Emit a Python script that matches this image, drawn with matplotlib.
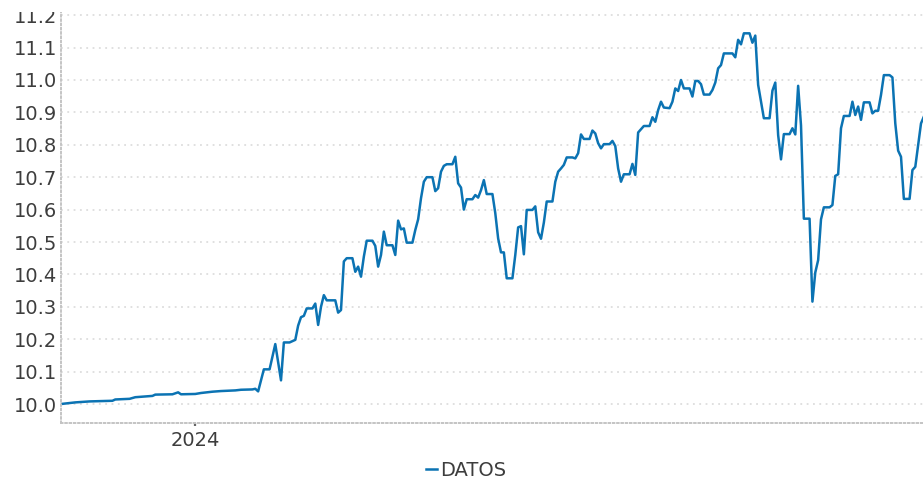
import matplotlib
matplotlib.use('Agg')
import matplotlib.pyplot as plt
import matplotlib.dates as mdates
import pandas as pd
from matplotlib.patches import Rectangle

# ---- data ----
serie = 'DATOS'
inicio = '2023-11-15'
dias = [0, 2, 5, 10, 18, 19, 24, 26, 32, 33,
        39, 41, 42, 47, 49, 53, 56, 61, 63, 67,
        68, 69, 71, 73, 75, 77, 78, 80, 82, 83,
        84, 85, 86, 88, 89, 90, 91, 92, 93, 96,
        97, 98, 99, 100, 102, 103, 104, 105, 106, 107,
        109, 110, 111, 112, 113, 114, 116, 117, 118, 119,
        120, 121, 123, 124, 125, 126, 127, 128, 130, 131,
        132, 133, 134, 135, 137, 138, 139, 140, 141, 142,
        144, 145, 146, 147, 148, 149, 151, 152, 153, 154,
        155, 156, 158, 159, 160, 161, 162, 163, 165, 166,
        167, 168, 169, 170, 172, 173, 174, 175, 176, 177,
        179, 180, 181, 182, 183, 185, 186, 187, 188, 189,
        190, 192, 193, 194, 195, 196, 197, 199, 200, 201,
        202, 203, 204, 206, 207, 208, 209, 210, 211, 213,
        214, 215, 216, 217, 218, 220, 221, 222, 223, 224,
        225, 227, 228, 229, 230, 231, 232, 235, 236, 237,
        238, 239, 241, 242, 243, 244, 245, 246, 248, 249,
        250, 251, 252, 253, 255, 256, 257, 258, 259, 260,
        262, 263, 264, 265, 266, 267, 269, 270, 271, 272,
        273, 274, 276, 277, 278, 279, 280, 281, 283, 284,
        285, 286, 287, 288, 290, 291, 292, 293, 294, 295,
        297, 298, 299, 300, 301, 302]
valores = [10.000, 10.002, 10.005, 10.008, 10.010, 10.014, 10.016, 10.021, 10.025, 10.029,
           10.030, 10.036, 10.030, 10.031, 10.034, 10.038, 10.040, 10.042, 10.044, 10.045,
           10.047, 10.039, 10.107, 10.107, 10.185, 10.073, 10.190, 10.190, 10.198, 10.242,
           10.268, 10.272, 10.295, 10.295, 10.310, 10.244, 10.300, 10.336, 10.320, 10.320,
           10.282, 10.290, 10.440, 10.450, 10.450, 10.408, 10.424, 10.393, 10.455, 10.504,
           10.504, 10.488, 10.424, 10.460, 10.532, 10.490, 10.490, 10.460, 10.566, 10.539,
           10.542, 10.498, 10.498, 10.537, 10.570, 10.635, 10.686, 10.700, 10.700, 10.657,
           10.666, 10.717, 10.735, 10.740, 10.740, 10.763, 10.681, 10.668, 10.600, 10.632,
           10.632, 10.645, 10.637, 10.660, 10.691, 10.648, 10.648, 10.589, 10.511, 10.468,
           10.468, 10.388, 10.388, 10.460, 10.545, 10.549, 10.462, 10.599, 10.599, 10.610,
           10.530, 10.510, 10.560, 10.625, 10.625, 10.686, 10.717, 10.727, 10.738, 10.761,
           10.761, 10.758, 10.774, 10.832, 10.818, 10.818, 10.844, 10.835, 10.805, 10.789,
           10.802, 10.802, 10.812, 10.796, 10.727, 10.686, 10.709, 10.709, 10.741, 10.707,
           10.838, 10.848, 10.858, 10.858, 10.885, 10.871, 10.907, 10.933, 10.915, 10.913,
           10.933, 10.974, 10.966, 11.000, 10.974, 10.974, 10.949, 10.997, 10.997, 10.987,
           10.955, 10.955, 10.969, 10.992, 11.036, 11.046, 11.082, 11.082, 11.070, 11.124,
           11.110, 11.144, 11.144, 11.115, 11.137, 10.985, 10.933, 10.882, 10.882, 10.967,
           10.992, 10.830, 10.755, 10.833, 10.833, 10.851, 10.832, 10.982, 10.860, 10.572,
           10.572, 10.316, 10.406, 10.444, 10.570, 10.607, 10.607, 10.614, 10.704, 10.709,
           10.851, 10.889, 10.889, 10.933, 10.892, 10.918, 10.877, 10.931, 10.931, 10.897,
           10.905, 10.905, 10.954, 11.015, 11.015, 11.008, 10.866, 10.782, 10.763, 10.633,
           10.633, 10.722, 10.732, 10.800, 10.866, 10.887]
yticks = [10.0, 10.1, 10.2, 10.3, 10.4, 10.5, 10.6, 10.7, 10.8, 10.9, 11.0, 11.1, 11.2]
ytick_labels = ['10.0', '10.1', '10.2', '10.3', '10.4', '10.5', '10.6',
                '10.7', '10.8', '10.9', '11.0', '11.1', '11.2']

fechas = pd.Timestamp(inicio) + pd.to_timedelta(dias, unit='D')

# ---- figure ----
W, H = 923, 482
fig = plt.figure(figsize=(W / 100, H / 100), dpi=100)
ax = fig.add_axes([61 / W, 59 / H, 862 / W, 413 / H])

ax.plot(fechas, valores, color='#0b73b3', lw=1.8, label=serie)

ax.set_xlim(pd.Timestamp(inicio), pd.Timestamp(inicio) + pd.Timedelta(days=301.7))
ax.set_ylim(9.9414, 11.216)
ax.set_yticks(yticks)
ax.set_yticklabels(ytick_labels)
ax.xaxis.set_major_locator(mdates.YearLocator())
ax.xaxis.set_major_formatter(mdates.DateFormatter('%Y'))

txt = '#3d3d3d'
ax.tick_params(axis='y', length=0, pad=3, labelsize=14, labelcolor=txt)
ax.tick_params(axis='x', length=2.5, width=1.6, color='#666666', pad=3.5,
               labelsize=14, labelcolor=txt)
ax.grid(axis='y', color='#dddddd', lw=1.3, linestyle=(0, (1, 2.5)))
ax.grid(axis='x', visible=False)
ax.set_axisbelow(True)

for s in ('top', 'right'):
    ax.spines[s].set_visible(False)
for s in ('left', 'bottom'):
    ax.spines[s].set_color('#c4c4c4')
    ax.spines[s].set_linewidth(1.4)
    ax.spines[s].set_linestyle((0, (0.8, 1.4)))

fig.legend(loc='lower center', bbox_to_anchor=(466 / W, -6 / H), frameon=False,
           fontsize=14, handlelength=0.55, handletextpad=0.15, labelcolor=txt,
           borderaxespad=0)

# top edge of the reference is cut just above the highest label
fig.patches.append(Rectangle((0, 1 - 12 / H), 1, 12 / H, transform=fig.transFigure,
                             facecolor='white', edgecolor='none', zorder=10))

fig.savefig('out.png', dpi=100, facecolor='white')
